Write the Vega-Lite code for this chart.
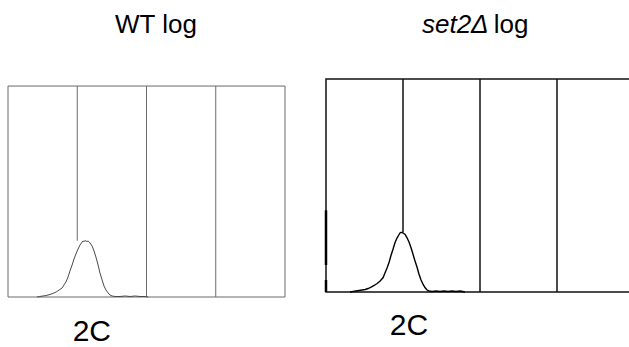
{
  "$schema": "https://vega.github.io/schema/vega-lite/v6.json",
  "padding": {"left": 7, "top": 11, "right": 0, "bottom": 0},
  "spacing": 38,
  "background": "white",
  "datasets": {
    "wt": [
      {"channel": 107, "count": 0}, {"channel": 118, "count": 0.7}, {"channel": 129, "count": 1.4}, {"channel": 141, "count": 2.1},
      {"channel": 155, "count": 3.6}, {"channel": 166, "count": 5.0}, {"channel": 178, "count": 7.1}, {"channel": 189, "count": 10.0},
      {"channel": 200, "count": 12.8}, {"channel": 207, "count": 17.1}, {"channel": 214, "count": 21.3}, {"channel": 222, "count": 28.4},
      {"channel": 229, "count": 37.0}, {"channel": 237, "count": 45.5}, {"channel": 244, "count": 54.0}, {"channel": 251, "count": 61.1},
      {"channel": 259, "count": 68.2}, {"channel": 266, "count": 73.9}, {"channel": 274, "count": 78.2}, {"channel": 277, "count": 79.6},
      {"channel": 281, "count": 78.9}, {"channel": 285, "count": 80.3}, {"channel": 288, "count": 79.6}, {"channel": 292, "count": 78.9},
      {"channel": 296, "count": 79.6}, {"channel": 300, "count": 78.2}, {"channel": 303, "count": 76.8}, {"channel": 311, "count": 72.5},
      {"channel": 318, "count": 65.4}, {"channel": 325, "count": 56.9}, {"channel": 333, "count": 45.5}, {"channel": 340, "count": 34.1},
      {"channel": 348, "count": 24.2}, {"channel": 355, "count": 15.6}, {"channel": 362, "count": 10.0}, {"channel": 370, "count": 5.7},
      {"channel": 377, "count": 2.8}, {"channel": 385, "count": 1.4}, {"channel": 396, "count": 0.7}, {"channel": 414, "count": 0.7},
      {"channel": 433, "count": 1.4}, {"channel": 451, "count": 0.7}, {"channel": 470, "count": 1.4}, {"channel": 488, "count": 0.7},
      {"channel": 507, "count": 0.7}, {"channel": 518, "count": 0}
    ],
    "set2": [
      {"channel": 80, "count": 0}, {"channel": 90, "count": 0.7}, {"channel": 100, "count": 1.4}, {"channel": 110, "count": 2.1},
      {"channel": 120, "count": 2.8}, {"channel": 130, "count": 3.5}, {"channel": 140, "count": 4.9}, {"channel": 150, "count": 7.0},
      {"channel": 160, "count": 9.2}, {"channel": 170, "count": 12.0}, {"channel": 180, "count": 15.5}, {"channel": 190, "count": 20.4},
      {"channel": 196, "count": 26.8}, {"channel": 203, "count": 33.8}, {"channel": 210, "count": 42.2}, {"channel": 216, "count": 51.4},
      {"channel": 223, "count": 60.5}, {"channel": 229, "count": 69.0}, {"channel": 236, "count": 76.0}, {"channel": 243, "count": 81.0},
      {"channel": 246, "count": 83.1}, {"channel": 249, "count": 83.8}, {"channel": 253, "count": 83.8}, {"channel": 256, "count": 83.1},
      {"channel": 259, "count": 82.4}, {"channel": 263, "count": 81.0}, {"channel": 269, "count": 76.7}, {"channel": 276, "count": 70.4},
      {"channel": 283, "count": 62.0}, {"channel": 289, "count": 53.5}, {"channel": 296, "count": 43.6}, {"channel": 303, "count": 34.5},
      {"channel": 309, "count": 25.3}, {"channel": 316, "count": 16.9}, {"channel": 323, "count": 10.6}, {"channel": 329, "count": 6.3},
      {"channel": 336, "count": 2.8}, {"channel": 343, "count": 1.4}, {"channel": 353, "count": 0.7}, {"channel": 366, "count": 1.4},
      {"channel": 379, "count": 0.7}, {"channel": 392, "count": 1.4}, {"channel": 406, "count": 0.7}, {"channel": 419, "count": 1.4},
      {"channel": 432, "count": 0.7}, {"channel": 446, "count": 1.4}, {"channel": 462, "count": 0}
    ],
    "wtLines": [
      {"c1": 0, "c2": 0, "n1": 0, "n2": 300},
      {"c1": 1024, "c2": 1024, "n1": 0, "n2": 300},
      {"c1": 0, "c2": 1024, "n1": 300, "n2": 300},
      {"c1": 0, "c2": 1024, "n1": 0, "n2": 0},
      {"c1": 256, "c2": 256, "n1": 80, "n2": 300},
      {"c1": 512, "c2": 512, "n1": 0, "n2": 300},
      {"c1": 768, "c2": 768, "n1": 0, "n2": 300}
    ],
    "set2Lines": [
      {"c1": 256, "c2": 256, "n1": 83.8, "n2": 300},
      {"c1": 512, "c2": 512, "n1": 0, "n2": 300},
      {"c1": 768, "c2": 768, "n1": 0, "n2": 300}
    ],
    "set2Spike": [
      {"channel": 0, "from": 38, "to": 115},
      {"channel": 0, "from": 0, "to": 17}
    ]
  },
  "hconcat": [
    {
      "width": 277,
      "height": 218,
      "view": {"stroke": null},
      "layer": [
        {
          "data": {"name": "wtLines"},
          "mark": {"type": "rule", "color": "#6a6a6a", "strokeWidth": 1},
          "encoding": {
            "x": {"field": "c1", "type": "quantitative", "scale": {"domain": [0, 1024], "nice": false, "zero": false}, "axis": null},
            "x2": {"field": "c2"},
            "y": {"field": "n1", "type": "quantitative", "scale": {"domain": [0, 310], "nice": false}, "axis": null},
            "y2": {"field": "n2"}
          }
        },
        {
          "data": {"name": "wt"},
          "mark": {"type": "line", "color": "#4a4a4a", "strokeWidth": 1},
          "encoding": {
            "x": {"field": "channel", "type": "quantitative"},
            "y": {"field": "count", "type": "quantitative"}
          }
        },
        {
          "data": {"values": [{}]},
          "mark": {"type": "text", "text": "WT log", "font": "Liberation Sans", "fontSize": 26, "align": "center", "baseline": "alphabetic", "color": "#000000"},
          "encoding": {"x": {"datum": 547}, "y": {"datum": 375}}
        },
        {
          "data": {"values": [{}]},
          "mark": {"type": "text", "text": "2C", "font": "Liberation Sans", "fontSize": 30, "align": "center", "baseline": "alphabetic", "color": "#000000"},
          "encoding": {"x": {"datum": 310}, "y": {"datum": -63}}
        }
      ]
    },
    {
      "width": 308,
      "height": 213,
      "view": {"stroke": "#111111", "strokeWidth": 1.5},
      "layer": [
        {
          "data": {"name": "set2Lines"},
          "mark": {"type": "rule", "color": "#111111", "strokeWidth": 1.5},
          "encoding": {
            "x": {"field": "c1", "type": "quantitative", "scale": {"domain": [0, 1024], "nice": false, "zero": false}, "axis": null},
            "x2": {"field": "c2"},
            "y": {"field": "n1", "type": "quantitative", "scale": {"domain": [0, 300], "nice": false}, "axis": null},
            "y2": {"field": "n2"}
          }
        },
        {
          "data": {"name": "set2Spike"},
          "mark": {"type": "rule", "color": "#000000", "strokeWidth": 2.5},
          "encoding": {
            "x": {"field": "channel", "type": "quantitative"},
            "y": {"field": "from", "type": "quantitative"},
            "y2": {"field": "to"}
          }
        },
        {
          "data": {"name": "set2"},
          "mark": {"type": "line", "color": "#000000", "strokeWidth": 1.4},
          "encoding": {
            "x": {"field": "channel", "type": "quantitative"},
            "y": {"field": "count", "type": "quantitative"}
          }
        },
        {
          "data": {"values": [{}]},
          "mark": {"type": "text", "text": "set2Δ", "font": "Liberation Sans", "fontStyle": "italic", "fontSize": 26, "align": "left", "baseline": "alphabetic", "color": "#000000"},
          "encoding": {"x": {"datum": 319}, "y": {"datum": 365}}
        },
        {
          "data": {"values": [{}]},
          "mark": {"type": "text", "text": "log", "font": "Liberation Sans", "fontSize": 26, "align": "left", "baseline": "alphabetic", "color": "#000000"},
          "encoding": {"x": {"datum": 558}, "y": {"datum": 365}}
        },
        {
          "data": {"values": [{}]},
          "mark": {"type": "text", "text": "2C", "font": "Liberation Sans", "fontSize": 30, "align": "center", "baseline": "alphabetic", "color": "#000000"},
          "encoding": {"x": {"datum": 276}, "y": {"datum": -60.6}}
        }
      ]
    }
  ]
}
